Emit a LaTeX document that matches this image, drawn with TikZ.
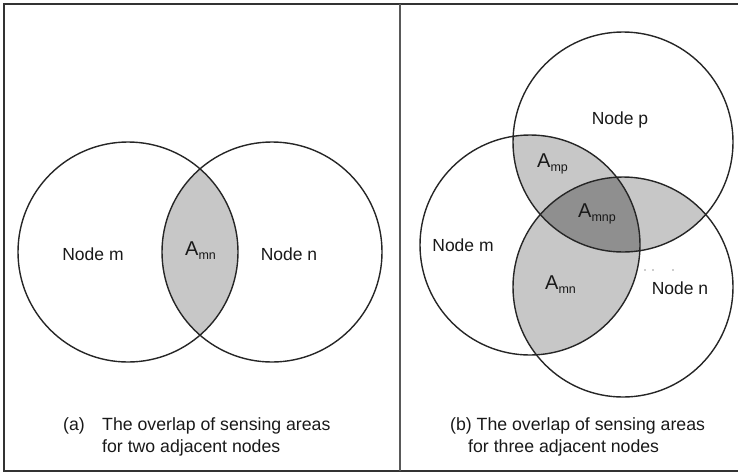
\documentclass[tikz,border=0pt]{standalone}
\usepackage{fontspec}
\setmainfont{Liberation Sans}
\usetikzlibrary{positioning}
\newcommand{\area}[1]{{\fontsize{20}{21}\selectfont A}\raisebox{-4.5pt}{\fontsize{12.5}{13}\selectfont #1}}

\begin{document}
\begin{tikzpicture}[x=1pt, y=-1pt,
    sensor/.style={draw=black!85, line width=1.4pt},
    overlap/.style={fill=black!22},
    core/.style={fill=black!44},
    txt/.style={font=\fontsize{17.5}{21}\selectfont, text=black!90, inner sep=0pt, anchor=base},
    caption/.style={font=\fontsize{17.7}{23}\selectfont, text=black!90, inner sep=0pt, anchor=base west}]
        \useasboundingbox (0,0) rectangle (738,472);
        % frame (open on the right) and divider
        \draw[line width=1.6pt, black!80] (738,4) -- (4,4) -- (4,471) -- (738,471);
        \draw[line width=1.4pt, black!65] (400,4) -- (400,471);

        % centres of the sensing discs
        \def\rad{110pt}
        \coordinate (am) at (128,252);
        \coordinate (an) at (272,252);
        \coordinate (bm) at (530,245);
        \coordinate (bn) at (623,287);
        \coordinate (bp) at (623,142);

        % (a) two nodes
        \begin{scope}
            \clip (am) circle[radius=\rad];
            \fill[overlap] (an) circle[radius=\rad];
        \end{scope}
        \foreach \c in {am,an} \draw[sensor] (\c) circle[radius=\rad];

        % (b) three nodes: pairwise overlaps, then the common part
        \foreach \u/\v in {bm/bn,bm/bp,bn/bp} {
            \begin{scope}
                \clip (\u) circle[radius=\rad];
                \fill[overlap] (\v) circle[radius=\rad];
            \end{scope}
        }
        \begin{scope}
            \clip (bm) circle[radius=\rad];
            \clip (bn) circle[radius=\rad];
            \fill[core] (bp) circle[radius=\rad];
        \end{scope}
        \foreach \c in {bm,bn,bp} \draw[sensor] (\c) circle[radius=\rad];
        \foreach \x in {645,653,673} \fill[black!40] (\x,270) circle[radius=0.8pt];

        \node[txt] (nma) at (93,260) {Node m};
        \node[txt] (nna) at (289,260) {Node n};
        \node[txt, anchor=base west] (amna) at (185,255) {\area{mn}};

        \node[txt] (npb) at (620,124) {Node p};
        \node[txt] (nmb) at (463,251) {Node m};
        \node[txt] (nnb) at (680,294) {Node n};
        \node[txt, anchor=base west] (ampb) at (537,167) {\area{mp}};
        \node[txt, anchor=base west] (amnpb) at (578,217) {\area{mnp}};
        \node[txt, anchor=base west] (amnb) at (545,289) {\area{mn}};

        \node[caption] (capa) at (63,430) {(a)};
        \node[caption] (capa1) at (102,430) {The overlap of sensing areas};
        \node[caption] (capa2) at (102,452) {for two adjacent nodes};
        \node[caption] (capb1) at (450,430) {(b) The overlap of sensing areas};
        \node[caption] (capb2) at (468,452) {for three adjacent nodes};
\end{tikzpicture}
\end{document}
